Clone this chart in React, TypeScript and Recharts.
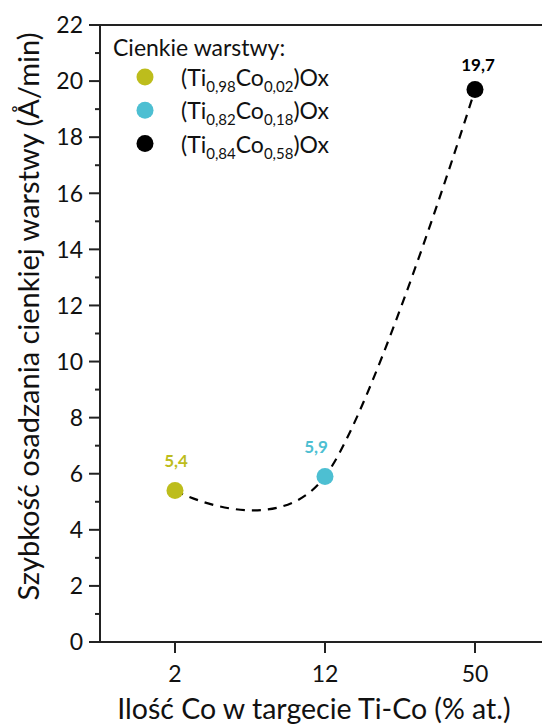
import React from 'react';
import { LineChart, Line, XAxis, YAxis, ReferenceLine, Legend, LabelList } from 'recharts';

// ---- data ----
const categories = ['2', '12', '50'];
const rates = [5.4, 5.9, 19.7];
const rateLabels = ['5,4', '5,9', '19,7'];
const tiSubs = ['0,98', '0,82', '0,84'];
const coSubs = ['0,02', '0,18', '0,58'];
const yTicks = [0, 1, 2, 3, 4, 5, 6, 7, 8, 9, 10, 11, 12, 13, 14, 15, 16, 17, 18, 19, 20, 21, 22];
const legendTitle = 'Cienkie warstwy:';
const xTitle = 'Ilość Co w targecie Ti-Co (% at.)';
const yTitle = 'Szybkość osadzania cienkiej warstwy (Å/min)';

// ---- styles ----
const pointColors = ['#BDBD1C', '#4DBFD2', '#000000'];
const labelDx = [1, -9, 3];
const labelDy = [-24, -24, -19];
const FONT = 'Lato, "Open Sans", sans-serif';
const AXIS = '#222';
const TEXT = '#111';

const data = categories.map((c, i) => ({ co: c, rate: rates[i], label: rateLabels[i] }));

// Uniform Catmull-Rom (cardinal, tension 0) curve factory
function cardinalZero(context: any) {
  let pts: number[][] = [];
  return {
    areaStart() {},
    areaEnd() {},
    lineStart() {
      pts = [];
    },
    point(x: number, y: number) {
      pts.push([+x, +y]);
    },
    lineEnd() {
      const n = pts.length;
      if (!n) return;
      context.moveTo(pts[0][0], pts[0][1]);
      if (n === 1) return;
      if (n === 2) {
        context.lineTo(pts[1][0], pts[1][1]);
        return;
      }
      const k = 1 / 6;
      for (let i = 0; i < n - 1; i++) {
        const p1 = pts[i];
        const p2 = pts[i + 1];
        const p0 = i > 0 ? pts[i - 1] : null;
        const p3 = i + 2 < n ? pts[i + 2] : null;
        const c1 = p0 ? [p1[0] + k * (p2[0] - p0[0]), p1[1] + k * (p2[1] - p0[1])] : p1;
        const c2 = p3 ? [p2[0] - k * (p3[0] - p1[0]), p2[1] - k * (p3[1] - p1[1])] : p2;
        context.bezierCurveTo(c1[0], c1[1], c2[0], c2[1], p2[0], p2[1]);
      }
    },
  };
}

const Y_TICK_SIZE = 11;
const Y_TICK_MARGIN = 6;

const YTick = (props: any) => {
  const { x, y, payload } = props;
  const major = payload.value % 2 === 0;
  const ax = x + Y_TICK_SIZE + Y_TICK_MARGIN;
  const len = major ? 11 : 5;
  return (
    <g>
      <line x1={ax - len} x2={ax} y1={y} y2={y} stroke={AXIS} strokeWidth={2} />
      {major && (
        <text x={x} y={y} dy="0.36em" textAnchor="end" fontSize={23} fontFamily={FONT} fill={TEXT}>
          {payload.value}
        </text>
      )}
    </g>
  );
};

const renderDot = (p: any) => (
  <circle key={`dot-${p.index}`} cx={p.cx} cy={p.cy} r={8.5} fill={pointColors[p.index]} stroke="none" />
);

const renderValueLabel = (p: any) => {
  const i = rateLabels.indexOf(p.value);
  return (
    <text
      key={`lbl-${i}`}
      x={p.x + labelDx[i]}
      y={p.y + labelDy[i]}
      textAnchor="middle"
      fontSize={17}
      fontWeight={700}
      fontFamily={FONT}
      fill={pointColors[i]}
    >
      {p.value}
    </text>
  );
};

const renderLegend = () => (
  <svg width={260} height={130} style={{ display: 'block', overflow: 'visible' }}>
    <text x={8} y={23} fontSize={23} fontFamily={FONT} fill={TEXT}>
      {legendTitle}
    </text>
    {tiSubs.map((ti, i) => (
      <g key={i}>
        <circle cx={40} cy={44 + i * 33.3} r={8.5} fill={pointColors[i]} />
        <text x={76} y={53 + i * 33.3} fontSize={23} fontFamily={FONT} fill={TEXT}>
          (Ti
          <tspan fontSize={15} dy={6}>
            {ti}
          </tspan>
          <tspan dy={-6}>Co</tspan>
          <tspan fontSize={15} dy={6}>
            {coSubs[i]}
          </tspan>
          <tspan dy={-6}>)Ox</tspan>
        </text>
      </g>
    ))}
  </svg>
);

const XLabel = (props: any) => {
  const vb = props.viewBox || {};
  return (
    <text
      x={vb.x + vb.width / 2 - 11}
      y={vb.y + vb.height - 5}
      textAnchor="middle"
      fontSize={28.5}
      fontFamily={FONT}
      fill={TEXT}
    >
      {xTitle}
    </text>
  );
};

const YLabel = (props: any) => {
  const vb = props.viewBox || {};
  const cx = 39;
  const cy = vb.y + vb.height / 2 - 17;
  return (
    <text
      x={cx}
      y={cy}
      transform={`rotate(-90 ${cx} ${cy})`}
      textAnchor="middle"
      fontSize={29}
      fontFamily={FONT}
      fill={TEXT}
    >
      {yTitle}
    </text>
  );
};

export default function App() {
  return (
    <div
      style={{
        position: 'absolute',
        left: 0,
        top: 0,
        width: 542,
        height: 724,
        overflow: 'hidden',
        background: '#fff',
      }}
    >
      <LineChart width={560} height={724} data={data} margin={{ top: 25, right: 10, bottom: 0, left: 0 }}>
        <XAxis
          dataKey="co"
          type="category"
          height={82}
          interval={0}
          padding={{ left: 75, right: 75 }}
          tickSize={11}
          tickMargin={13}
          axisLine={{ stroke: AXIS, strokeWidth: 2 }}
          tickLine={{ stroke: AXIS, strokeWidth: 2 }}
          tick={{ fontSize: 23, fontFamily: FONT, fill: TEXT }}
          label={<XLabel />}
        />
        <YAxis
          type="number"
          width={100}
          domain={[0, 22]}
          ticks={yTicks}
          interval={0}
          tickSize={Y_TICK_SIZE}
          tickMargin={Y_TICK_MARGIN}
          tickLine={false}
          axisLine={{ stroke: AXIS, strokeWidth: 2 }}
          tick={<YTick />}
          label={<YLabel />}
        />
        <ReferenceLine y={22} stroke={AXIS} strokeWidth={2} />
        <Legend
          layout="vertical"
          align="center"
          verticalAlign="middle"
          width={260}
          height={130}
          wrapperStyle={{ left: 105, top: 33, width: 260, height: 130 }}
          content={renderLegend}
        />
        <Line
          dataKey="rate"
          type={cardinalZero as any}
          stroke="#000"
          strokeWidth={2.2}
          strokeDasharray="9 7"
          dot={renderDot}
          activeDot={false}
          isAnimationActive={false}
        >
          <LabelList dataKey="label" content={renderValueLabel} />
        </Line>
      </LineChart>
    </div>
  );
}
